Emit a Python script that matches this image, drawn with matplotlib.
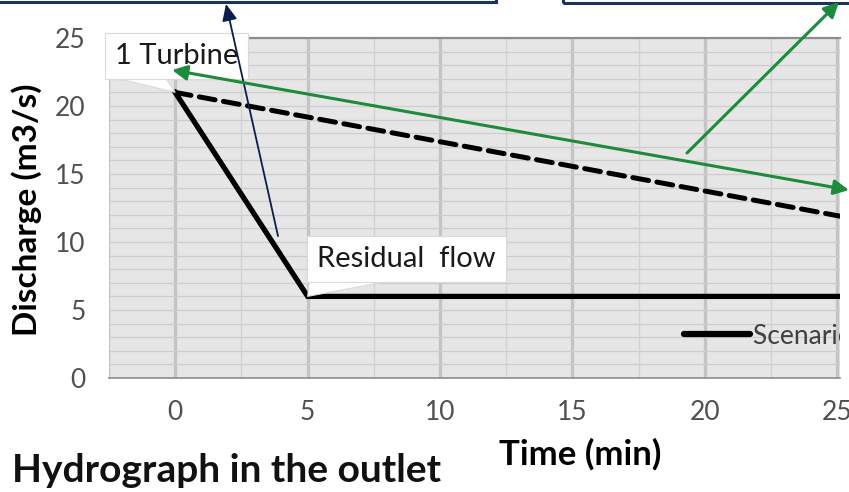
import matplotlib
matplotlib.use("Agg")
import matplotlib.pyplot as plt
import matplotlib.transforms as mtransforms
from matplotlib.ticker import MultipleLocator
from matplotlib.patches import Rectangle, Polygon
from matplotlib.lines import Line2D

# data
time_solid = [0, 5, 25.1]
flow_solid = [21, 6, 6]
time_dashed = [0, 25.1]
flow_dashed = [21, 11.9]
x_ticks = [0, 5, 10, 15, 20, 25]
y_ticks = [0, 5, 10, 15, 20, 25]
legend_label = "Scenario 1"
note_turbine = "1 Turbine"
note_residual = "Residual  flow"

plt.rcParams['font.family'] = ['Lato', 'DejaVu Sans']

W, H = 849, 492
fig = plt.figure(figsize=(W / 100, H / 100), dpi=100)
fig.patch.set_facecolor("white")

ax = fig.add_axes([109 / W, 1 - 378 / H, 731 / W, 340 / H])
ax.set_facecolor("#e6e6e6")
ax.set_xlim(-2.5, 25.1)
ax.set_ylim(0, 25)

ax.xaxis.set_minor_locator(MultipleLocator(2.5))
ax.yaxis.set_minor_locator(MultipleLocator(1))
ax.set_xticks(x_ticks)
ax.set_yticks(y_ticks)
ax.grid(axis="x", which="major", color="#c4c4c4", lw=2.4)
ax.grid(axis="x", which="minor", color="#d2d2d2", lw=1.0)
ax.grid(axis="y", which="both", color="#cdcdcd", lw=0.9)
ax.set_axisbelow(True)
ax.tick_params(which="both", length=0)
ax.tick_params(axis="y", pad=17, labelsize=19, labelcolor="#505050")
ax.tick_params(axis="x", pad=16, labelsize=19, labelcolor="#505050")

ax.spines["right"].set_visible(False)
ax.spines["left"].set_color("#c4c4c4")
ax.spines["top"].set_color("#8c8c8c")
ax.spines["top"].set_linewidth(1.6)
ax.spines["bottom"].set_color("#8c8c8c")
ax.spines["bottom"].set_linewidth(1.2)

ax.plot(time_solid, flow_solid, color="black", lw=3.8, solid_joinstyle="miter", zorder=3)
ax.plot(time_dashed, flow_dashed, color="black", lw=3.6,
        linestyle=(0, (3.2, 1.7)), dash_capstyle="round", zorder=3)


# excel style callout: white box plus a flat pointer (offsets in pixels from the point)
def callout(text, x, y, off_pt, base):
    ax.annotate(text, xy=(x, y), xytext=off_pt, textcoords="offset points",
                ha="center", va="center", fontsize=21, color="#1a1a1a",
                annotation_clip=False, zorder=5,
                bbox=dict(boxstyle="square,pad=0.35", fc="white", ec="#dadada", lw=0.8))
    tr = mtransforms.Affine2D() + mtransforms.ScaledTranslation(x, y, ax.transData)
    ax.add_patch(Polygon([(0, 0), base[0], base[1]], closed=True, transform=tr,
                         fc="white", ec="#dadada", lw=0.8, zorder=4.9, clip_on=False))


callout(note_turbine, time_solid[0], flow_solid[0], (1, 26), [(-62, 15), (-10, 15)])
callout(note_residual, time_solid[1], flow_solid[1], (71, 27), [(2, 16), (85, 16)])

leg = ax.legend([Line2D([], [], color="black", lw=4.5, solid_capstyle="round")],
                [legend_label], loc="center left", bbox_to_anchor=(0.786, 0.1235),
                frameon=False, borderpad=0, borderaxespad=0, handlelength=2.5,
                handletextpad=0.15, fontsize=19)
for t in leg.get_texts():
    t.set_color("#404040")
    t.set_clip_box(ax.bbox)
    t.set_clip_on(True)

# axis titles
fig.text(27 / W, 1 - 210 / H, "Discharge (m3/s)", rotation=90, ha="center", va="center",
         fontsize=24, fontweight="bold", color="black")
fig.text(580 / W, 1 - 454 / H, "Time (min)", ha="center", va="center",
         fontsize=25, fontweight="bold", color="black")
fig.text(12 / W, 1 - 470 / H, "Hydrograph in the outlet", ha="left", va="center",
         fontsize=28, fontweight="bold", color="#111111")

# slide overlays: edges of boxes above and pointer arrows
fig.patches.append(Rectangle((-5, H - 2), 501, 20, transform=None, fill=False,
                             ec="#1b3360", lw=2.2))
fig.patches.append(Rectangle((563, H - 3), 300, 20, transform=None, fill=False,
                             ec="#1b3360", lw=2.2))

navy = "#0b1d4d"
green = "#1e8a3c"
fig.add_artist(plt.Annotation("", xy=(226, H - 4), xytext=(278, H - 236),
                              xycoords="figure pixels", textcoords="figure pixels",
                              arrowprops=dict(arrowstyle="-|>,head_length=1.0,head_width=0.45",
                                              color=navy, lw=1.3, shrinkA=0, shrinkB=0)))
fig.add_artist(plt.Annotation("", xy=(172, H - 70), xytext=(849, H - 190),
                              xycoords="figure pixels", textcoords="figure pixels",
                              arrowprops=dict(arrowstyle="<|-|>,head_length=0.9,head_width=0.45",
                                              color=green, lw=2.2, shrinkA=0, shrinkB=0)))
fig.add_artist(plt.Annotation("", xy=(839, H - 2), xytext=(687, H - 153),
                              xycoords="figure pixels", textcoords="figure pixels",
                              arrowprops=dict(arrowstyle="-|>,head_length=0.9,head_width=0.45",
                                              color=green, lw=2.2, shrinkA=0, shrinkB=0)))

fig.savefig("out.png", dpi=100)
